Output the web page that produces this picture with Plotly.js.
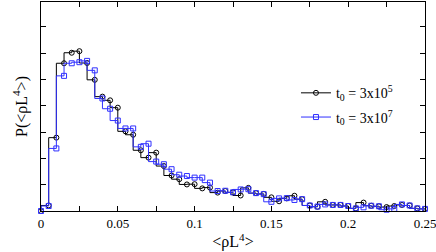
<!DOCTYPE html>
<html>
<head>
<meta charset="utf-8">
<script src="https://cdn.plot.ly/plotly-3.0.1.min.js"></script>
<style>html,body{margin:0;padding:0;background:#fff;}#chart{width:436px;height:252px;}</style>
</head>
<body>
<div id="chart"></div>
<script>
// bin centres of <rho L^4>
const rhoL4 = [0,0.005,0.01,0.015,0.02,0.025,0.03,0.035,0.04,0.045,0.05,0.055,0.06,0.065,0.07,0.075,0.08,0.085,0.09,0.095,0.1,0.105,0.11,0.115,0.12,0.125,0.13,0.135,0.14,0.145,0.15,0.155,0.16,0.165,0.17,0.175,0.18,0.185,0.19,0.195,0.2,0.205,0.21,0.215,0.22,0.225,0.23,0.235,0.24,0.245,0.25];
// t0 = 3x10^5 (black circles)
const pT5 = [0,0.21,2.79,5.62,6.02,6.08,5.63,4.99,4.35,4.21,3.93,3.03,2.90,2.31,2.03,2.22,1.71,1.35,1.21,1.01,1.02,0.86,0.89,0.70,0.76,0.71,0.59,0.88,0.68,0.65,0.52,0.37,0.48,0.58,0.45,0.21,0.16,0.35,0.23,0.23,0.19,0.10,0.32,0.20,0.18,0.15,0.19,0.23,0.21,0.10,0.08];
// t0 = 3x10^7 (blue squares)
const pT7 = [0,0.19,2.38,5.14,5.62,5.66,5.71,5.35,4.28,3.89,3.44,3.14,3.14,2.44,2.56,1.88,1.78,1.59,1.38,1.33,1.27,1.27,1.08,0.76,0.77,0.71,0.82,0.83,0.68,0.64,0.35,0.48,0.49,0.42,0.45,0.21,0.17,0.25,0.23,0.23,0.19,0.10,0.14,0.20,0.18,0.05,0.08,0.25,0.21,0.10,0.08];
const seriesNames = ["t<sub>0</sub> = 3x10<sup>5</sup>", "t<sub>0</sub> = 3x10<sup>7</sup>"];
const xTickVals = [0,0.05,0.1,0.15,0.2,0.25];
const xTickText = ["0","0.05","0.1","0.15","0.2","0.25"];

const serif = "Liberation Serif, Times New Roman, serif";
const traces = [
  {x: rhoL4, y: pT5, name: seriesNames[0], type: "scatter", mode: "lines+markers",
   legendgroup: "a", cliponaxis: false,
   line: {shape: "vh", color: "#000000", width: 1},
   marker: {symbol: "circle-open", size: 5, color: "#000000", line: {width: 1}}},
  {x: rhoL4, y: pT7, name: seriesNames[1], type: "scatter", mode: "lines+markers",
   legendgroup: "b", cliponaxis: false,
   line: {shape: "vh", color: "#3030ff", width: 1},
   marker: {symbol: "square-open", size: 5, color: "#3030ff", line: {width: 1}}}
];
const layout = {
  width: 436, height: 252,
  margin: {l: 41, r: 11, t: 2, b: 41},
  paper_bgcolor: "#fff", plot_bgcolor: "#fff",
  font: {family: serif, size: 13, color: "#000"},
  showlegend: true,
  legend: {x: 0.664, y: 0.64, xanchor: "left", yanchor: "top", bgcolor: "rgba(0,0,0,0)",
           font: {family: serif, size: 14}, itemwidth: 30, tracegroupgap: 3},
  xaxis: {range: [0, 0.25], tickvals: xTickVals, ticktext: xTickText, ticklabeloverflow: "allow",
          ticks: "inside", ticklen: 5, tickcolor: "#000", showgrid: false, zeroline: false,
          showline: true, linecolor: "#000", linewidth: 1, mirror: "ticks",
          minor: {dtick: 0.025, tick0: 0, ticks: "inside", ticklen: 5, tickcolor: "#000", showgrid: false},
          tickfont: {family: serif, size: 13},
          title: {text: "&lt;ρL<sup>4</sup>&gt;", font: {family: serif, size: 16}, standoff: 6}},
  yaxis: {range: [0, 7.95], dtick: 1, tick0: 0, showticklabels: false,
          ticks: "inside", ticklen: 5, tickcolor: "#000", showgrid: false, zeroline: false,
          showline: true, linecolor: "#000", linewidth: 1, mirror: "ticks",
          title: {text: "P(&lt;ρL<sup>4</sup>&gt;)", font: {family: serif, size: 16}, standoff: 8}}
};
Plotly.newPlot("chart", traces, layout, {displayModeBar: false, staticPlot: true});
</script>
</body>
</html>
